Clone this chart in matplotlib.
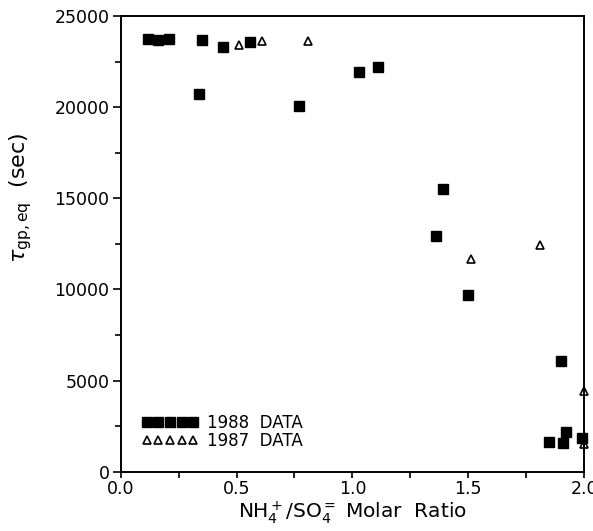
import numpy as np
import matplotlib.pyplot as plt
from matplotlib.ticker import MultipleLocator

# 1988 data (filled squares)
x_1988 = [0.12, 0.16, 0.21, 0.35, 0.34, 0.44, 0.56, 0.77, 1.03, 1.11,
          1.39, 1.36, 1.50, 1.90, 1.92, 1.85, 1.91, 1.99]
y_1988 = [23750, 23700, 23750, 23700, 20700, 23300, 23550, 20050, 21950, 22180,
          15530, 12930, 9680, 6080, 2190, 1650, 1560, 1830]

# 1987 data (open triangles)
x_1987 = [0.51, 0.61, 0.81, 1.51, 1.81, 2.00, 2.00]
y_1987 = [23420, 23620, 23620, 11640, 12420, 4440, 1500]

plt.rcParams['font.family'] = ['DejaVu Sans']
plt.rcParams['mathtext.fontset'] = 'dejavusans'

fig = plt.figure(figsize=(5.93, 5.31), dpi=100)
ax = fig.add_axes([0.2035, 0.1117, 0.7815, 0.8583])

ax.plot(x_1988, y_1988, 's', color='black', markersize=7, label='1988  DATA', clip_on=False)
ax.plot(x_1987, y_1987, '^', markerfacecolor='white', markeredgecolor='black',
        markeredgewidth=1.2, markersize=6, label='1987  DATA', clip_on=False)

ax.set_xlim(0, 2.0)
ax.set_ylim(0, 25000)
ax.xaxis.set_major_locator(MultipleLocator(0.5))
ax.xaxis.set_minor_locator(MultipleLocator(0.25))
ax.yaxis.set_major_locator(MultipleLocator(5000))
ax.yaxis.set_minor_locator(MultipleLocator(2500))
ax.xaxis.set_major_formatter(plt.FormatStrFormatter('%.1f'))
ax.tick_params(which='both', direction='out', length=4, width=1.2, labelsize=12.5, pad=2)
ax.tick_params(axis='y', which='major', length=6)

for s in ax.spines.values():
    s.set_linewidth(1.4)

ax.set_xlabel(r'NH$_4^+$/SO$_4^=$ Molar  Ratio', fontsize=14.5, labelpad=1)
ax.set_ylabel(r'$\tau_{\mathrm{gp,eq}}$  (sec)', fontsize=16, va='center')
ax.yaxis.set_label_coords(-0.215, 0.6)

ax.legend(loc='lower left', bbox_to_anchor=(0.045, 0.048), frameon=False, numpoints=5,
          handlelength=3.4, handletextpad=0.5, labelspacing=0.0, fontsize=12,
          borderpad=0, borderaxespad=0)

fig.savefig('out.png', dpi=100)
